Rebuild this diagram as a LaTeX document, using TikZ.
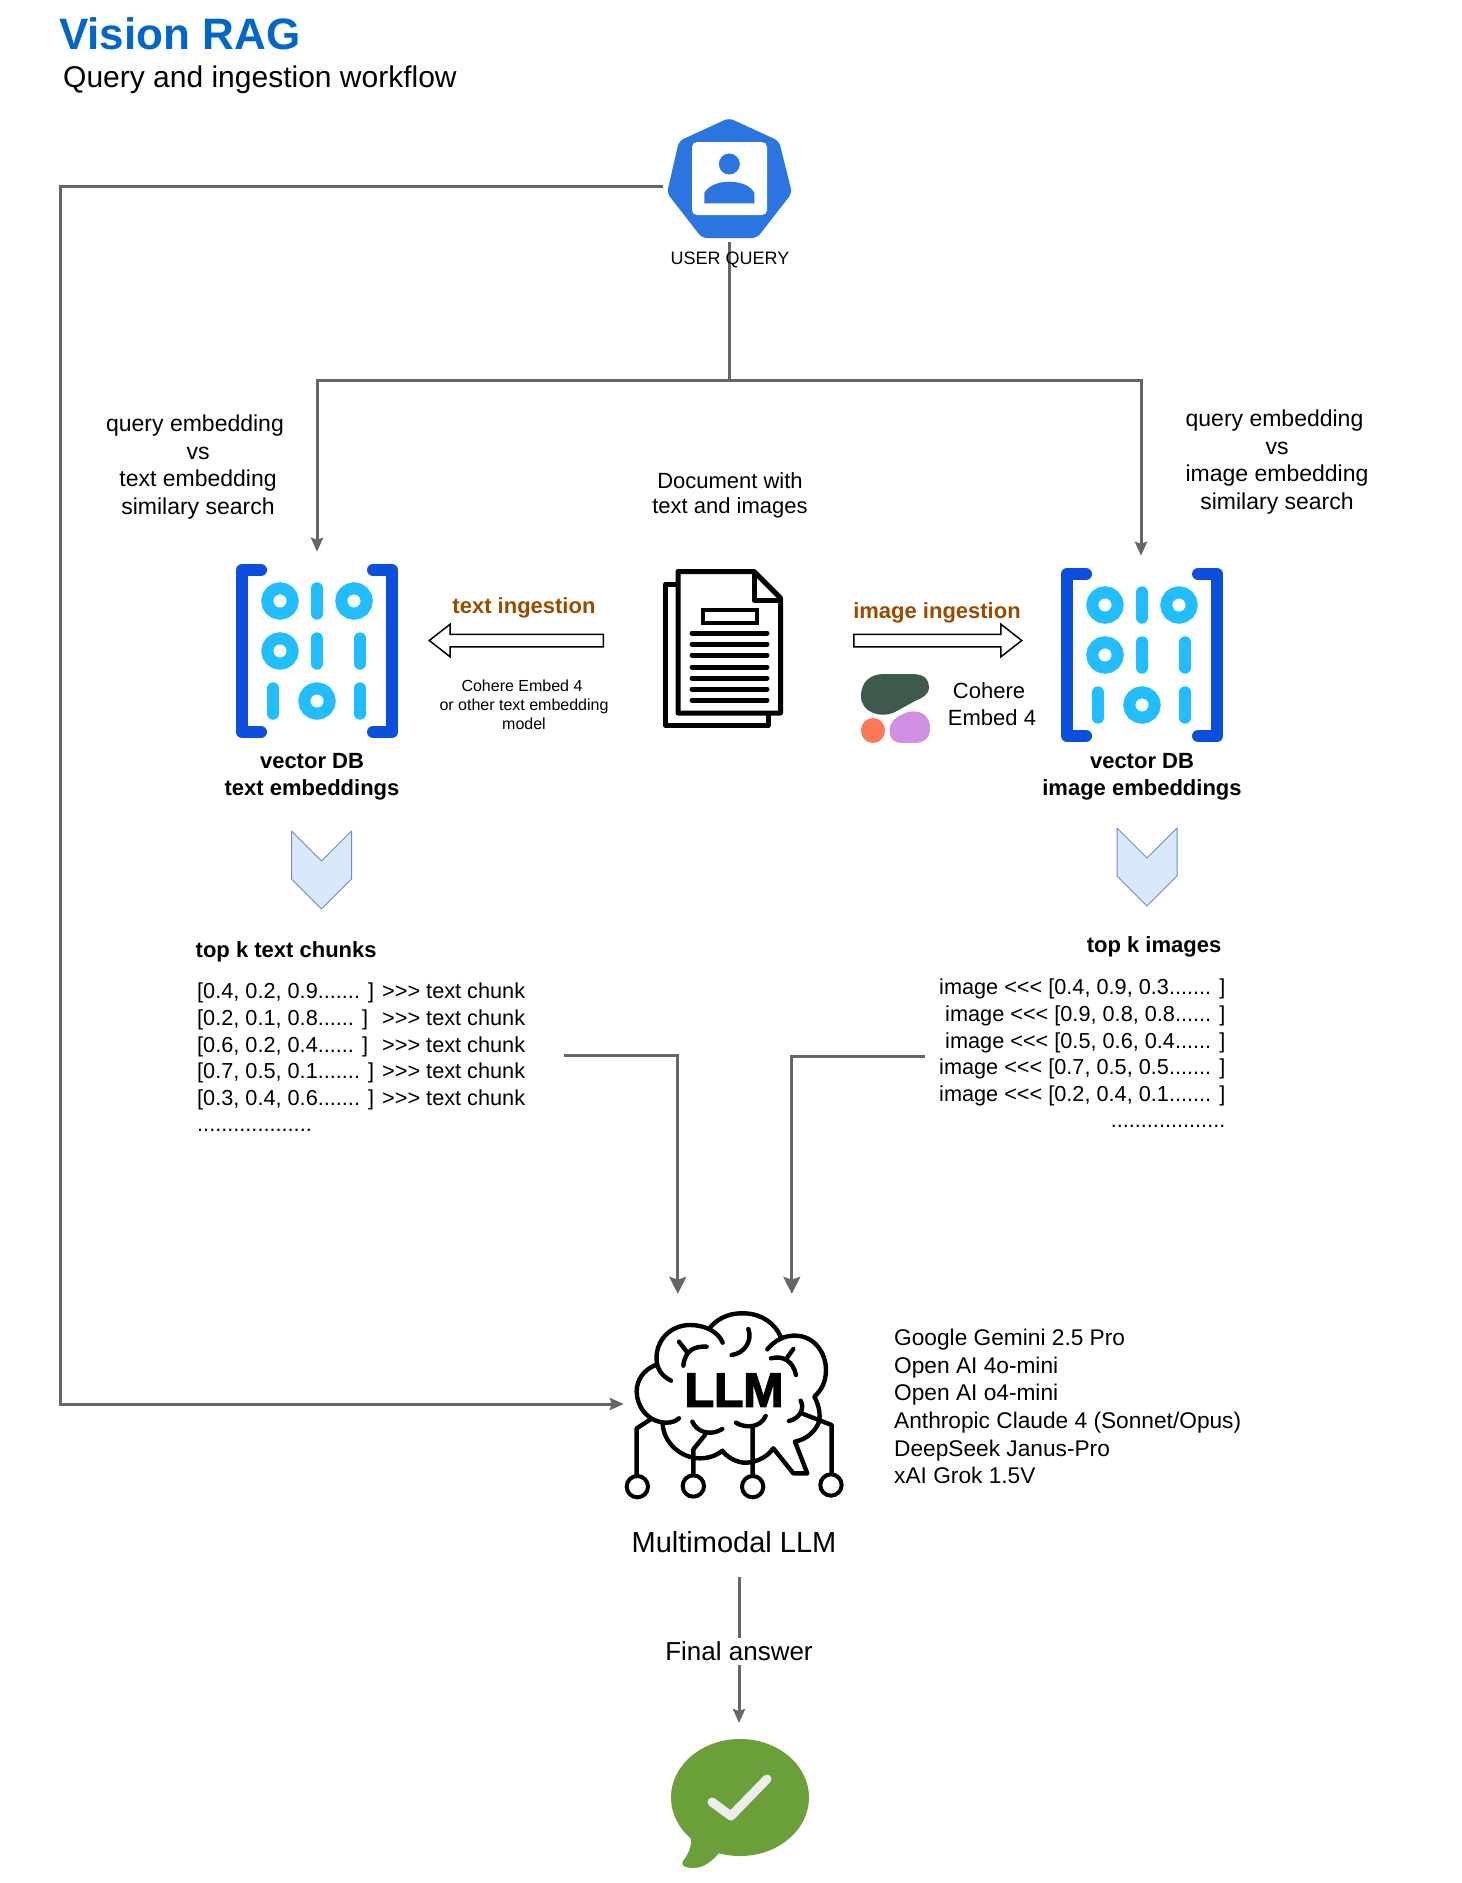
\documentclass[tikz,border=0pt]{standalone}
\usepackage{fontspec}
\usepackage{xcolor}
\setmainfont{Liberation Sans}
\newfontfamily\llmfont[FakeBold=3]{Liberation Sans Bold}
\usetikzlibrary{arrows.meta,positioning,shapes.arrows}
\definecolor{querygray}{HTML}{666666}
\definecolor{titleblue}{HTML}{0066CC}
\definecolor{ingestbrown}{HTML}{994C00}
\definecolor{userblue}{HTML}{2A75E0}
\definecolor{bracketblue}{HTML}{0D4FDD}
\definecolor{bitblue}{HTML}{22BDFF}
\definecolor{chevronfill}{HTML}{DAE8FC}
\definecolor{chevronline}{HTML}{6C8EBF}
\definecolor{coheredark}{HTML}{3D5A4C}
\definecolor{cohereorange}{HTML}{FF7759}
\definecolor{coherepurple}{HTML}{D18EE2}
\definecolor{answergreen}{HTML}{6A9F3A}
\tikzset{
  body/.style={font=\fontsize{22}{26.6}\selectfont,inner sep=0pt,align=center},
  bigbody/.style={body,font=\fontsize{23}{27.6}\selectfont},
  bodybold/.style={body,font=\fontsize{22}{26.6}\selectfont\bfseries},
  listtext/.style={body,font=\fontsize{21.7}{26.6}\selectfont,align=left,anchor=north west},
  ingesttext/.style={inner sep=0pt,font=\fontsize{22}{26.6}\selectfont\bfseries,text=ingestbrown},
  iconbox/.style={inner sep=0pt,minimum width=164pt,minimum height=198pt},
  flow/.style={draw=querygray,line width=3pt,-{Stealth[length=14pt,width=12pt,inset=2pt]}},
  bigflow/.style={flow,-{Stealth[length=17pt,width=17pt,inset=3pt]}},
  plainflow/.style={draw=querygray,line width=3pt},
  hollowarrow/.style={
    draw,line width=1.5pt,single arrow,inner sep=5.5pt,
    single arrow tip angle=76,single arrow head extend=10pt
  },
  bitline/.style={draw=bitblue,line width=12pt,line cap=round},
  bitring/.style={draw=bitblue,line width=12pt},
  brain/.style={draw=black,line width=4.4pt,line cap=round,line join=round,fill=none},
  dbicon/.pic={
    \draw[draw=bracketblue,line width=12pt,line cap=round,line join=round]
      (-56,-81) -- (-75,-81) -- (-75,81) -- (-56,81)
      (56,-81) -- (75,-81) -- (75,81) -- (56,81);
    \foreach \cx/\cy in {-37/-50,37/-50,-37/0,0/50}
      \draw[bitring] (\cx,\cy) circle (12.7);
    \foreach \cx/\cy in {0/-50,0/0,43/0,-44/50,43/50}
      \draw[bitline] (\cx,\cy-12.7) -- (\cx,\cy+12.7);
  },
  chevronmark/.pic={
    \draw[fill=chevronfill,draw=chevronline,line width=1pt,line join=round]
      (-30,0) -- (0,30) -- (30,0) -- (30,48) -- (0,78) -- (-30,48) -- cycle;
  }
}
\begin{document}
\begin{tikzpicture}[x=1pt,y=-1pt]
  \useasboundingbox (0,0) rectangle (1462,1883);

  \node (title) [inner sep=0pt,anchor=west,font=\fontsize{44}{50}\selectfont\bfseries,text=titleblue] at (59,34) {Vision RAG};
  \node (subtitle) [inner sep=0pt,anchor=west,font=\fontsize{30}{34}\selectfont] at (63,79.5) {Query and ingestion workflow};

  % user query icon
  \fill[userblue,rounded corners=5pt] (729,118) -- (779,141) -- (792,193) -- (757,238) -- (702,238) -- (667,193) -- (679,141) -- cycle;
  \fill[white,rounded corners=5pt] (692,142) rectangle (767,215);
  \fill[userblue] (729.3,164) circle (10.5);
  \fill[userblue] (704.3,203.3) -- (704.3,193) .. controls (708,186) and (718,181.7) .. (729.3,181.7) .. controls (741,181.7) and (751,186) .. (754.3,193) -- (754.3,203.3) -- cycle;
  \node (usericon) [inner sep=0pt,minimum width=132pt,minimum height=112pt] at (729,186) {};

  % vector stores and document
  \node (textdb) [iconbox] at (317,651) {};
  \node (imagedb) [iconbox] at (1141,655) {};
  \pic at (textdb.center) {dbicon};
  \pic at ([xshift=1pt]imagedb.center) {dbicon};

  \node (llmicon) [inner sep=0pt,minimum width=218pt,minimum height=222pt] at (733,1405) {};
  \node (answericon) [inner sep=0pt,minimum width=138pt,minimum height=145pt,anchor=north] at (739,1723) {};

  \coordinate (split) at (729,380);
  \coordinate (rail) at (60,1404);
  \coordinate (chunksout) at (564,1055);
  \coordinate (imagesout) at (925,1056);
  \coordinate (answerstart) at (739,1577);

  \draw[plainflow] (usericon.south) -- (split);
  \draw[flow] (split) -| (textdb.north);
  \draw[flow] (split) -| (imagedb.north);
  \draw[flow] (usericon.west) -| (rail) -- (rail -| llmicon.west);
  \draw[bigflow] (chunksout) -| ([xshift=54pt]llmicon.north west);
  \draw[bigflow] (imagesout) -| ([xshift=168pt]llmicon.north west);
  \draw[flow] (answerstart) -- node (finaltext) [pos=0.51,fill=white,inner sep=4pt,font=\fontsize{26}{30}\selectfont] {Final answer} (answericon.north);

  \node (querylabel) [inner sep=0pt,font=\fontsize{18}{21}\selectfont] at (730,260) {USER QUERY};

  \node (textquery) [bigbody] at (198,467) {query embedding\hspace*{6pt}\\vs\hspace*{6pt}\\text embedding\\similary search};
  \node (imagequery) [bigbody] at (1277,462) {query embedding\hspace*{5pt}\\vs\hspace*{5pt}\\image embedding\\similary search};
  \node (doclabel) [body,font=\fontsize{22}{25}\selectfont] at (730,495) {Document with\\text and images};

  % document icon
  \draw[line width=5pt,line join=round,fill=white] (768,713) -- (768,725.5) -- (665.5,725.5) -- (665.5,584) -- (678,584);
  \draw[line width=5pt,line join=round] (678,571.5) -- (754,571.5) -- (780.5,598) -- (780.5,713) -- (678,713) -- cycle;
  \draw[line width=5pt,line join=round] (754,571.5) -- (754,600) -- (780.5,600);
  \draw[line width=4pt] (703,610) rectangle (757,623);
  \foreach \ly in {633,644,655,667,678,689,700}
    \draw[line width=5pt,line cap=round] (692,\ly) -- (767,\ly);

  \node (textingest) [ingesttext] at (524,607.5) {text ingestion};
  \node (textarrow) [hollowarrow,minimum height=174pt,shape border rotate=180,anchor=tail] at (604,640.5) {};
  \node (textmodel) [inner sep=0pt,align=center,font=\fontsize{16}{19}\selectfont] at (524,705) {Cohere Embed 4\hspace*{4pt}\\or other text embedding\\model};

  \node (imageingest) [ingesttext] at (937,612.5) {image ingestion};
  \node (imagearrow) [hollowarrow,minimum height=168pt,anchor=tail] at (853,640.5) {};

  % cohere logo
  \fill[coheredark] (861,696) .. controls (861,682) and (870,674) .. (884,674) -- (912,674) .. controls (925,674) and (929,680) .. (929,687) .. controls (929,695) and (922,698) .. (915,701) -- (895,712) .. controls (880,719) and (861,712) .. (861,696) -- cycle;
  \fill[cohereorange] (873,730.5) ellipse (12 and 12.5);
  \fill[coherepurple] (889.5,731) .. controls (889.5,722) and (895,718) .. (903,714) .. controls (915,708) and (930,712) .. (930,728) .. controls (930,738) and (924,743) .. (914,743) -- (903,743) .. controls (893,743) and (889.5,738) .. (889.5,731) -- cycle;
  \node (coherelabel) [body] at (992,704) {Cohere\hspace*{6pt}\\Embed 4};

  \node (textdblabel) [bodybold] at (312,777) {vector DB\\text embeddings};
  \node (imagedblabel) [bodybold] at (1142,776.5) {vector DB\\image embeddings};

  \pic at (321.5,831) {chevronmark};
  \pic at (1147,828) {chevronmark};

  \node (topchunks) [bodybold,anchor=west] at (195.5,952) {top k text chunks};
  \node (topimages) [bodybold] at (1154,946.5) {top k images};

  \node (chunklist) [listtext] at (197,983) {[0.4, 0.2, 0.9....... ] >{}>{}> text chunk\\{}%
    [0.2, 0.1, 0.8...... ] \ >{}>{}> text chunk\\{}%
    [0.6, 0.2, 0.4...... ] \ >{}>{}> text chunk\\{}%
    [0.7, 0.5, 0.1....... ] >{}>{}> text chunk\\{}%
    [0.3, 0.4, 0.6....... ] >{}>{}> text chunk\\{}%
    ...................};
  \node (imagelist) [listtext,align=right,anchor=north east] at (1225.5,979) {image <{}<{}< [0.4, 0.9, 0.3....... ]\\
    image <{}<{}< [0.9, 0.8, 0.8...... ]\\
    image <{}<{}< [0.5, 0.6, 0.4...... ]\\
    image <{}<{}< [0.7, 0.5, 0.5....... ]\\
    image <{}<{}< [0.2, 0.4, 0.1....... ]\\
    ...................};

  % llm icon, traced in 3x units
  \begin{scope}[shift={(610,1290)},x=0.3333pt,y=-0.3333pt]
    \path[brain]
      (137,225) .. controls (100,240) and (80,270) .. (80,305) .. controls (80,350) and (115,398) .. (170,398) .. controls (185,398) and (198,393) .. (207,385)
      (183,272) .. controls (150,255) and (137,230) .. (140,195) .. controls (145,140) and (190,105) .. (240,105) .. controls (285,105) and (325,125) .. (338,158)
      (302,110) .. controls (330,80) and (365,68) .. (405,70) .. controls (455,72) and (495,100) .. (512,140)
      (472,178) .. controls (495,150) and (525,135) .. (560,137) .. controls (615,140) and (648,190) .. (648,240) .. controls (648,275) and (635,300) .. (613,320) .. controls (630,350) and (635,390) .. (620,410) .. controls (605,435) and (580,450) .. (555,455) -- (592,550) -- (550,550) -- (490,475) .. controls (470,505) and (430,520) .. (400,518) .. controls (375,515) and (350,500) .. (337,482) .. controls (320,497) and (295,505) .. (270,505) .. controls (215,505) and (160,460) .. (158,400)
      (207,155) -- (230,185)
      (290,170) .. controls (255,168) and (225,180) .. (220,227)
      (415,117) .. controls (428,150) and (405,190) .. (365,195)
      (550,177) -- (530,205)
      (483,205) .. controls (520,195) and (550,215) .. (558,255)
      (247,395) .. controls (260,425) and (300,440) .. (337,417)
      (285,435) -- (250,478) -- (250,555)
      (378,398) .. controls (405,415) and (450,415) .. (467,378)
      (428,415) -- (428,555)
      (572,332) .. controls (585,355) and (570,385) .. (537,393)
      (580,372) -- (665,405) -- (665,550)
      (122,388) -- (80,415) -- (80,558);
    \foreach \rx/\ry in {82/590,250/588,428/590,663/585}
      \draw[line width=4pt] (\rx,\ry) circle (32);
  \end{scope}
  \node (llmword) [inner sep=0pt,font=\fontsize{48}{50}\llmfont] at (734,1390) {LLM};
  \node (llmlabel) [inner sep=0pt,font=\fontsize{29}{32}\selectfont] at (734,1542) {Multimodal LLM};

  \node (modellist) [listtext,font=\fontsize{22.7}{27.6}\selectfont] at (894,1329) {Google Gemini 2.5 Pro\\Open AI 4o-mini\\Open AI o4-mini\\Anthropic Claude 4 (Sonnet/Opus)\\DeepSeek Janus-Pro\\xAI Grok 1.5V};

  % final answer bubble
  \fill[answergreen] (740,1797.5) ellipse (69 and 58.5);
  \fill[answergreen] (690,1835) .. controls (693,1845) and (689,1853) .. (683,1861) .. controls (680,1866) and (686,1868) .. (693,1868) .. controls (705,1868) and (713,1860) .. (721,1851) -- cycle;
  \draw[draw=black!7,line width=9pt,line cap=round,line join=round] (712,1802) -- (731,1816) -- (767,1779);
\end{tikzpicture}
\end{document}
